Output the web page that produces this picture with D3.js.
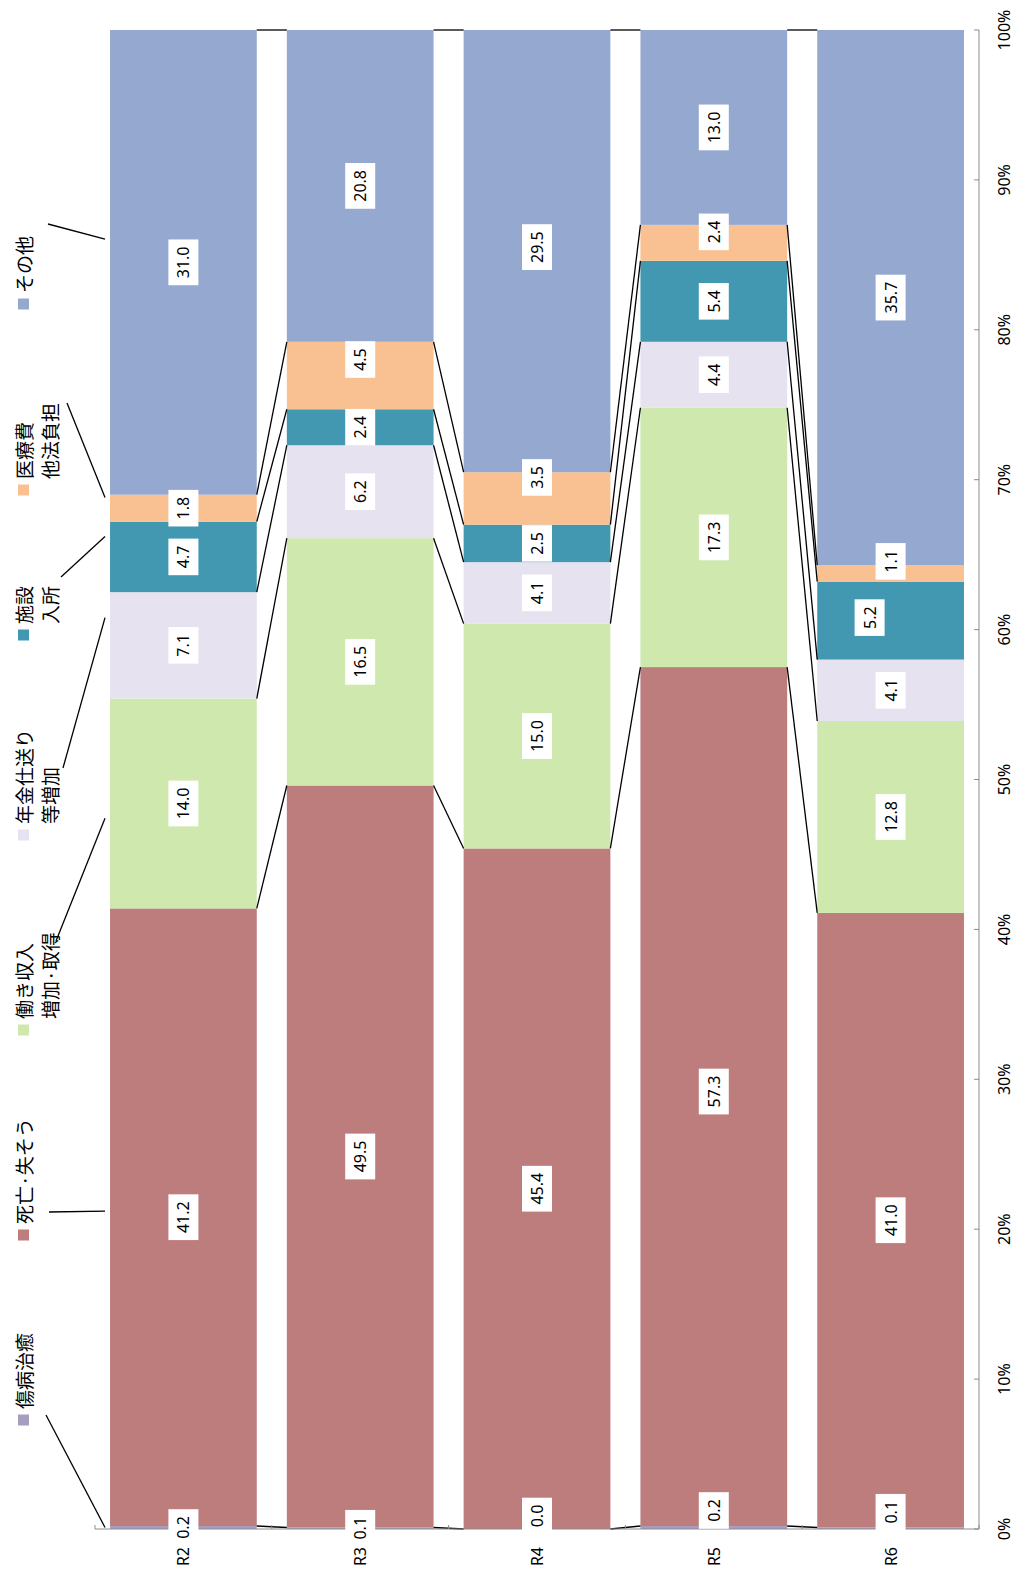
<!DOCTYPE html>
<html>
<head>
<meta charset="utf-8">
<script src="https://cdn.jsdelivr.net/npm/d3@7"></script>
<style>
  body { margin: 0; background: #fff; }
  svg { display: block; }
  .num { font-family: "Noto Sans", "Liberation Sans", Arial, sans-serif; fill: #000; }
  .jp { font-family: "Noto Sans CJK JP", sans-serif; fill: #000; }
</style>
</head>
<body>
<div id="chart"></div>
<script>
// categories (fiscal years) and series, bottom to top
const categories = ['R2', 'R3', 'R4', 'R5', 'R6'];
const seriesKeys = ['injury', 'death', 'work', 'pension', 'facility', 'medical', 'other'];
const legendLines = [
    ['傷病治癒'],
    ['死亡·失そう'],
    ['働き収入', '増加·取得'],
    ['年金仕送り', '等増加'],
    ['施設', '入所'],
    ['医療費', '他法負担'],
    ['その他']
];
const colors = ['#a59ebe', '#bc7d7c', '#cee8ae', '#e7e2ef', '#4398b1', '#f9c191', '#95a9d0'];

// shares (%) per category
const injury   = [0.2, 0.1, 0.0, 0.2, 0.1];
const death    = [41.2, 49.5, 45.4, 57.3, 41.0];
const work     = [14.0, 16.5, 15.0, 17.3, 12.8];
const pension  = [7.1, 6.2, 4.1, 4.4, 4.1];
const facility = [4.7, 2.4, 2.5, 5.4, 5.2];
const medical  = [1.8, 4.5, 3.5, 2.4, 1.1];
const other    = [31.0, 20.8, 29.5, 13.0, 35.7];

const yTicks = [0, 10, 20, 30, 40, 50, 60, 70, 80, 90, 100];

const seriesValues = [injury, death, work, pension, facility, medical, other];
const rows = categories.map((c, i) => {
    const r = { cat: c };
    seriesKeys.forEach((k, j) => r[k] = seriesValues[j][i]);
    return r;
});

const width = 1019, height = 1579;
const plot = { left: 95, right: 979, top: 30, bottom: 1529 };

const svg = d3.select('#chart').append('svg')
    .attr('width', width)
    .attr('height', height);

const x = d3.scaleBand()
    .domain(categories)
    .range([plot.left, plot.right])
    .paddingInner(0.17)
    .paddingOuter(0.085);

const y = d3.scaleLinear()
    .domain([0, 100])
    .range([plot.bottom, plot.top]);

const stacked = d3.stack().keys(seriesKeys)(rows);

// bars
stacked.forEach((s, j) => {
    svg.append('g')
        .selectAll('rect')
        .data(s)
        .join('rect')
        .attr('x', d => x(d.data.cat))
        .attr('width', x.bandwidth())
        .attr('y', d => y(d[1]))
        .attr('height', d => y(d[0]) - y(d[1]))
        .attr('fill', colors[j]);
});

// series lines between adjacent bars
const seriesLines = svg.append('g')
    .attr('stroke', '#000')
    .attr('stroke-width', 1.3);
stacked.forEach(s => {
    for (let i = 0; i < s.length - 1; i++) {
        seriesLines.append('line')
            .attr('x1', x(categories[i]) + x.bandwidth())
            .attr('y1', y(s[i][1]))
            .attr('x2', x(categories[i + 1]))
            .attr('y2', y(s[i + 1][1]));
    }
});

// category axis (bottom)
const axisColor = '#8c8c8c';
svg.append('line')
    .attr('x1', plot.left).attr('x2', plot.right)
    .attr('y1', plot.bottom).attr('y2', plot.bottom)
    .attr('stroke', axisColor);
for (let i = 0; i <= categories.length; i++) {
    const tx = plot.left + i * x.step();
    svg.append('line')
        .attr('x1', tx).attr('x2', tx)
        .attr('y1', plot.bottom).attr('y2', plot.bottom - 4)
        .attr('stroke', axisColor);
}
svg.append('g')
    .selectAll('text')
    .data(categories)
    .join('text')
    .attr('class', 'num')
    .attr('font-size', 16)
    .attr('text-anchor', 'end')
    .attr('dominant-baseline', 'central')
    .attr('transform', d => `translate(${x(d) + x.bandwidth() / 2},1547) rotate(-90)`)
    .text(d => d);

// value axis (right)
svg.append('line')
    .attr('x1', plot.right).attr('x2', plot.right)
    .attr('y1', plot.top).attr('y2', plot.bottom)
    .attr('stroke', axisColor);
yTicks.forEach(t => {
    svg.append('line')
        .attr('x1', plot.right - 5).attr('x2', plot.right)
        .attr('y1', y(t)).attr('y2', y(t))
        .attr('stroke', axisColor);
    const lbl = svg.append('text')
        .attr('class', 'num')
        .attr('font-size', 16)
        .attr('text-anchor', 'middle')
        .attr('dominant-baseline', 'central')
        .text(t + '%');
    const half = lbl.node().getComputedTextLength() / 2;
    const cy = Math.max(y(t), half + 6);
    lbl.attr('transform', `translate(1004,${cy}) rotate(-90)`);
});

// data labels with white boxes
// nudges where the original moved labels off-centre to avoid overlap
const labelNudge = {
    'R4-0': [0, -13], 'R5-0': [0, -17], 'R6-0': [0, -16],
    'R3-5': [0, -16], 'R4-5': [0, -21], 'R5-5': [0, -11], 'R6-5': [0, -12],
    'R6-4': [-21, -3], 'R4-6': [0, -4], 'R5-1': [0, -5]
};
const labels = svg.append('g');
stacked.forEach((s, j) => {
    s.forEach(d => {
        const key = `${d.data.cat}-${j}`;
        const [dx, dy] = labelNudge[key] || [0, 0];
        const cx = x(d.data.cat) + x.bandwidth() / 2 + dx;
        const cy = (y(d[0]) + y(d[1])) / 2 + dy;
        const g = labels.append('g').attr('transform', `translate(${cx},${cy})`);
        const rect = g.append('rect').attr('fill', '#fff');
        const t = g.append('text')
            .attr('class', 'num')
            .attr('font-size', 16)
            .attr('text-anchor', 'middle')
            .attr('dominant-baseline', 'central')
            .attr('transform', 'rotate(-90)')
            .text((d[1] - d[0]).toFixed(1));
        const len = t.node().getComputedTextLength();
        rect.attr('x', -15).attr('width', 30)
            .attr('y', -len / 2 - 7).attr('height', len + 14);
    });
});

// legend (rotated), square below the text, with leader lines to the R2 bar
const legendY = [1420, 1235, 1030, 835, 635, 490, 304];
const leaderStart = [[46, 1415], [49, 1212], [56, 941], [63, 768], [61, 577], [67, 403], [48, 224]];
const leaderFrac = [0.5, 0.51, 0.43, 0.76, 0.79, 0.9, 0.55];

const legend = svg.append('g');
legendLines.forEach((lines, j) => {
    legend.append('rect')
        .attr('x', 18).attr('y', legendY[j] - 5.5)
        .attr('width', 11).attr('height', 11)
        .attr('fill', colors[j]);
    lines.forEach((ln, k) => {
        legend.append('text')
            .attr('class', 'jp')
            .attr('font-size', 19)
            .attr('text-anchor', 'start')
            .attr('dominant-baseline', 'central')
            .attr('transform', `translate(${23 + k * 26},${legendY[j] - 11}) rotate(-90)`)
            .text(ln);
    });
    const seg = stacked[j][0];
    const ty = y(seg[0] + leaderFrac[j] * (seg[1] - seg[0]));
    legend.append('line')
        .attr('x1', leaderStart[j][0]).attr('y1', leaderStart[j][1])
        .attr('x2', x(categories[0]) - 5).attr('y2', ty)
        .attr('stroke', '#000')
        .attr('stroke-width', 1.3);
});
</script>
</body>
</html>
